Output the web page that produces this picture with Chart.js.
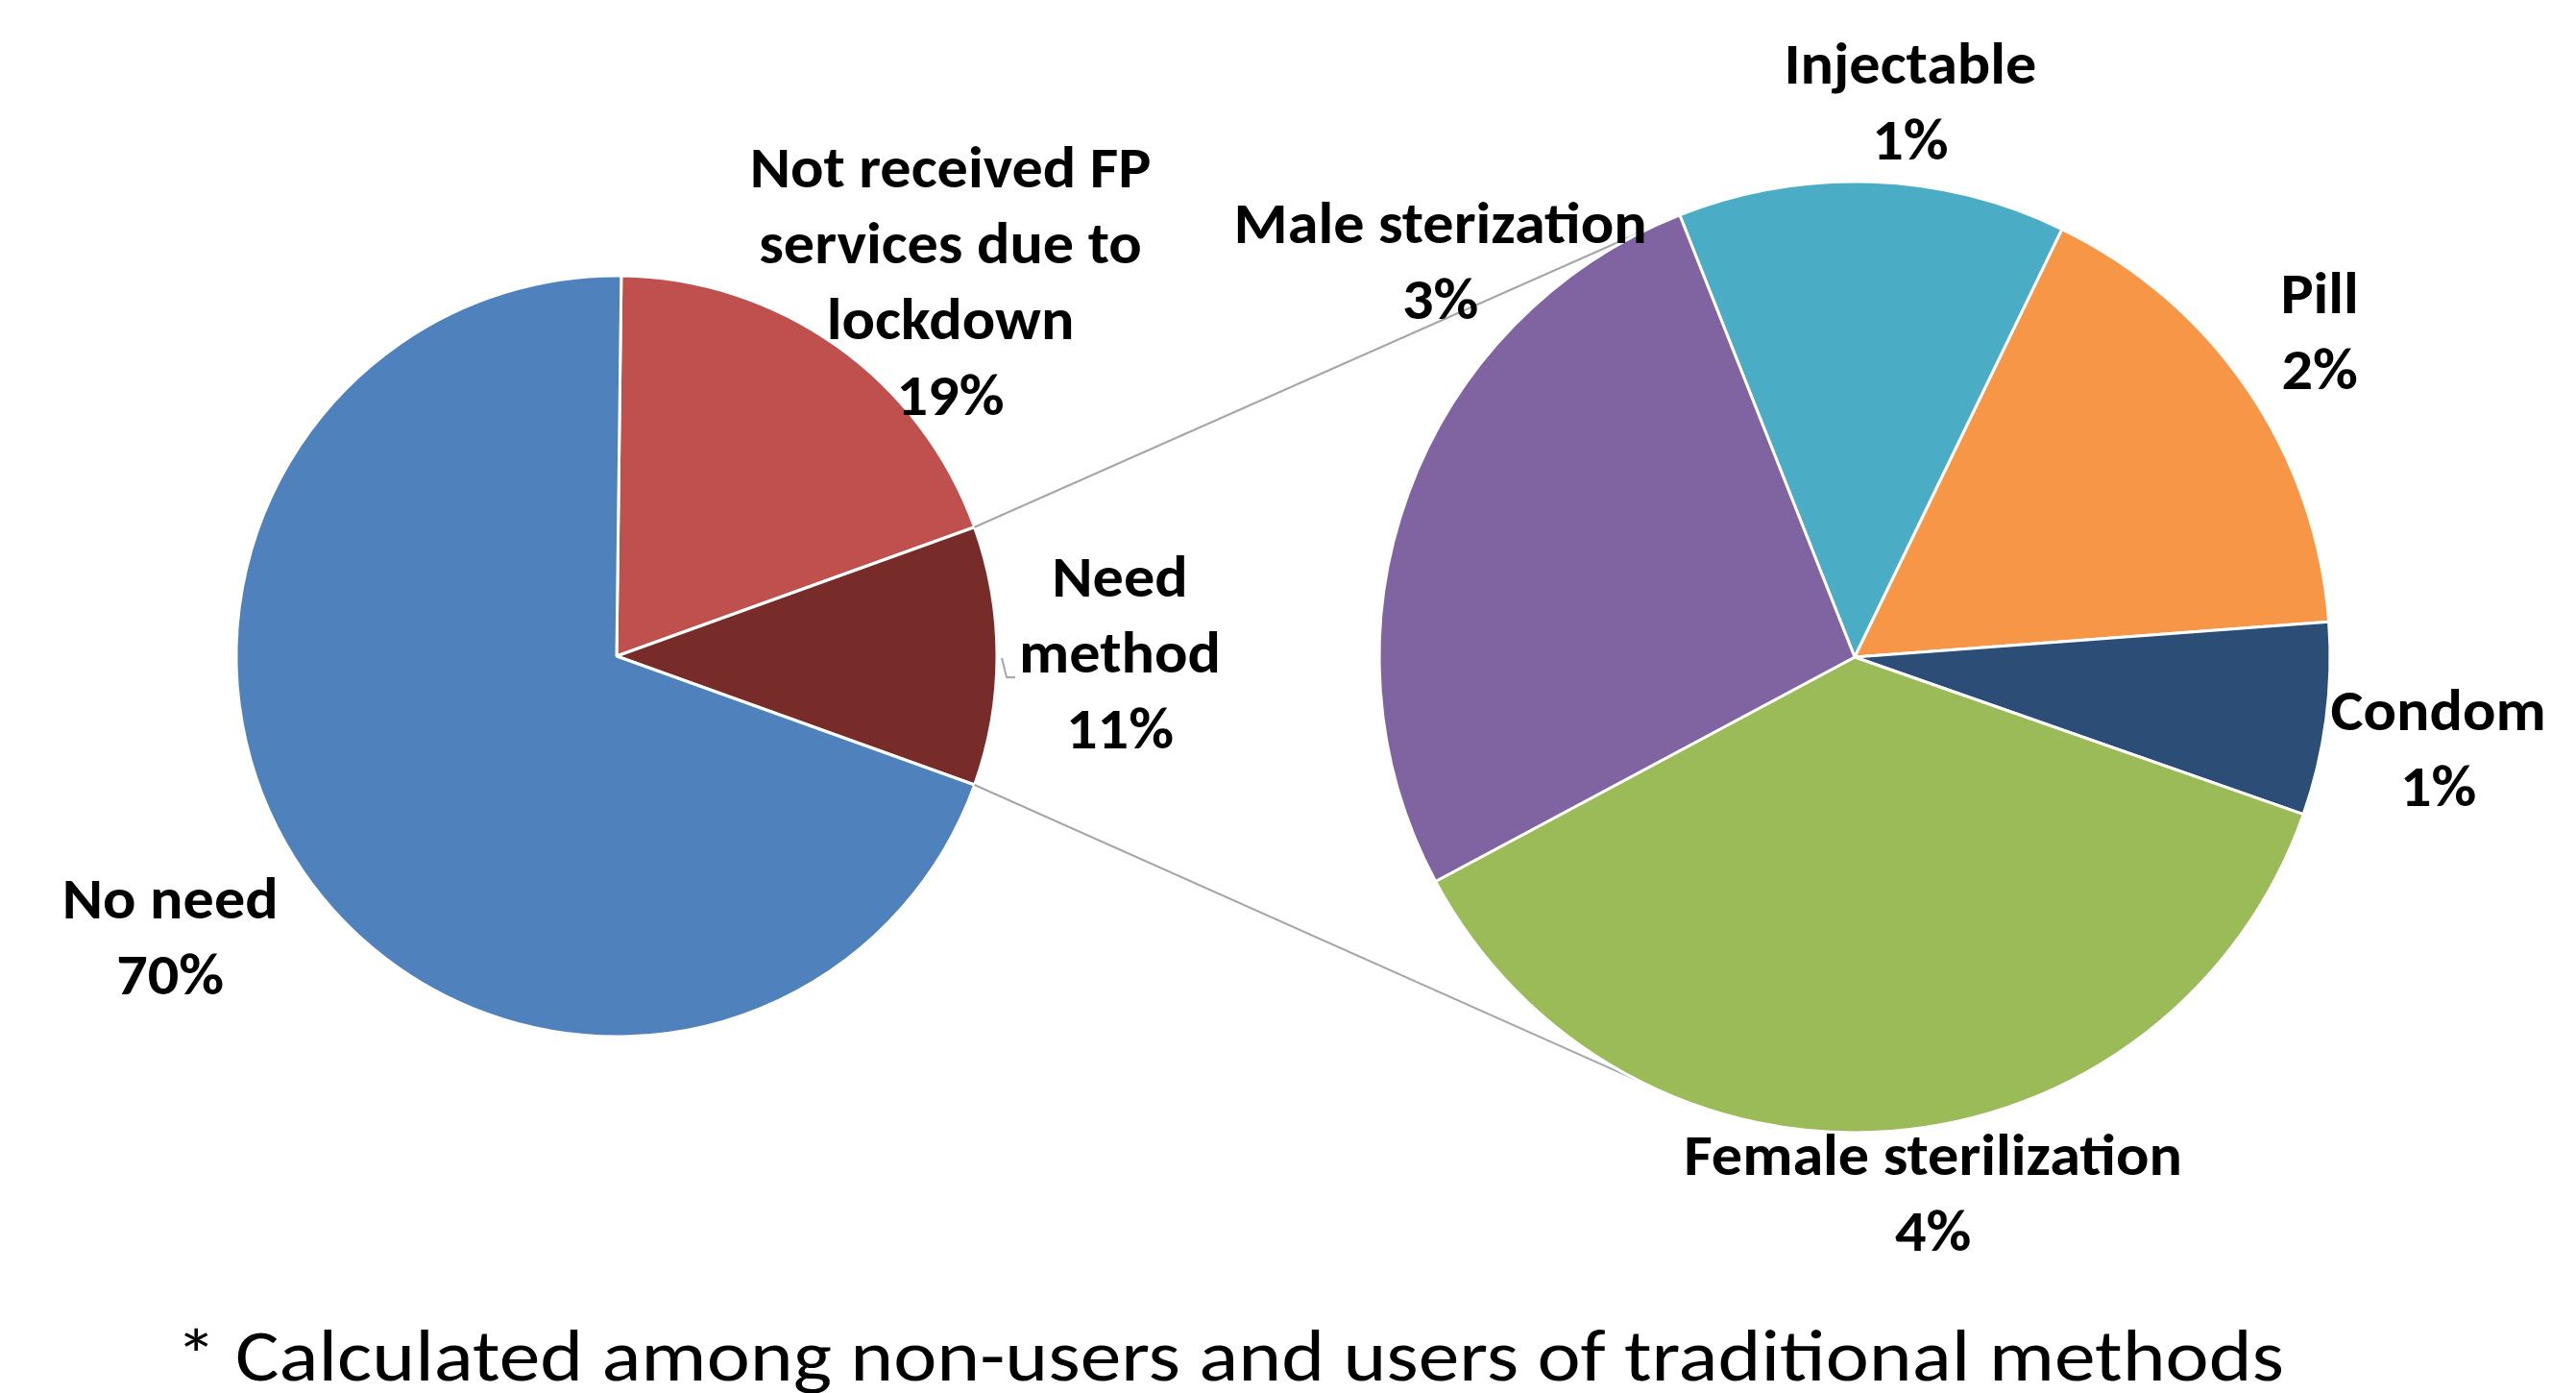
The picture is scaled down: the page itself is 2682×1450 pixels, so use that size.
<!DOCTYPE html>
<html>
<head>
<meta charset="utf-8">
<script src="https://cdn.jsdelivr.net/npm/chart.js@4"></script>
<style>
  html, body { margin: 0; padding: 0; background: #fff; }
  #wrap { position: relative; width: 2682px; height: 1450px; overflow: hidden; }
  #wrap canvas { position: absolute; left: 0; top: 0; }
</style>
</head>
<body>
<div id="wrap">
  <canvas id="chart-main" width="2682" height="1450"></canvas>
  <canvas id="chart-methods" width="2682" height="1450"></canvas>
</div>
<script>
// first pie
const mainLabels = [["Not received FP", "services due to", "lockdown"], ["Need", "method"], ["No need"]];
const mainValues = [19.3, 11.0, 69.7];
const mainColors = ["#C0504D", "#772C2A", "#4F81BD"];

// second pie (breakdown of "Need method")
const methodLabels = [["Injectable"], ["Pill"], ["Condom"], ["Female sterilization"], ["Male sterization"]];
const methodValues = [1.45, 1.83, 0.72, 4.05, 2.95];
const methodColors = ["#4BACC6", "#F79646", "#2C4D75", "#9BBB59", "#8064A2"];

const footnote = "* Calculated among non-users and users of traditional methods";

const W = 2682, H = 1450, BW = 3;
const FONT = "Carlito, Calibri, Lato, sans-serif";
const LABEL_SIZE = 60, LABEL_STRETCH = 1.07, LINE_H = 79;

// label placement: [distance from centre, angle tweak in degrees]
const mainLabelPos = [[522, 6.3], [524, -0.3], [549, 2.6]];
const methodLabelPos = [[580, 3.6], [591, -0.8], [615, 1.4], [564, -3.9], [596, 23.5]];

function padFor(cx, cy, r) {
  return {
    left: cx - r - BW / 2,
    right: W - cx - r - BW / 2,
    top: cy - r - BW / 2,
    bottom: H - cy - r - BW / 2,
  };
}

function labelPlugin(id, positions) {
  return {
    id: id,
    afterDatasetsDraw(chart) {
      const ctx = chart.ctx;
      const meta = chart.getDatasetMeta(0);
      const data = chart.data.datasets[0].data;
      ctx.save();
      ctx.fillStyle = "#000";
      ctx.font = "bold " + LABEL_SIZE + "px " + FONT;
      ctx.textAlign = "center";
      ctx.textBaseline = "alphabetic";
      meta.data.forEach((arc, i) => {
        const p = arc.getProps(["x", "y", "startAngle", "endAngle"], true);
        const mid = (p.startAngle + p.endAngle) / 2 + positions[i][1] * Math.PI / 180;
        const cx = p.x + positions[i][0] * Math.cos(mid);
        const cy = p.y + positions[i][0] * Math.sin(mid);
        const lines = chart.data.labels[i].concat([Math.round(data[i]) + "%"]);
        const n = lines.length;
        lines.forEach((t, k) => {
          ctx.save();
          ctx.translate(cx, cy + (k - (n - 1) / 2) * LINE_H + 20);
          ctx.scale(LABEL_STRETCH, 1);
          ctx.fillText(t, 0, 0);
          ctx.restore();
        });
      });
      ctx.restore();
    },
  };
}

const ctx1 = document.getElementById("chart-main").getContext("2d");
const mainChart = new Chart(ctx1, {
  type: "pie",
  data: {
    labels: mainLabels,
    datasets: [{
      data: mainValues,
      backgroundColor: mainColors,
      borderColor: "#fff",
      borderWidth: BW,
    }],
  },
  options: {
    responsive: false,
    animation: false,
    devicePixelRatio: 1,
    rotation: 0.7,
    layout: { padding: padFor(642, 683, 396) },
    plugins: { legend: { display: false }, tooltip: { enabled: false } },
  },
  plugins: [
    labelPlugin("mainLabels", mainLabelPos),
    {
      // little leader line next to "Need method"
      id: "leader",
      afterDatasetsDraw(chart) {
        const arc = chart.getDatasetMeta(0).data[1];
        const p = arc.getProps(["x", "y", "outerRadius"], true);
        const x0 = p.x + p.outerRadius + 5, y0 = p.y + 2;
        const c = chart.ctx;
        c.save();
        c.strokeStyle = "#A6A6A6";
        c.lineWidth = 2;
        c.beginPath();
        c.moveTo(x0, y0);
        c.lineTo(x0 + 5, y0 + 20);
        c.lineTo(x0 + 14, y0 + 20);
        c.stroke();
        c.restore();
      },
    },
  ],
});

const ctx2 = document.getElementById("chart-methods").getContext("2d");
const methodChart = new Chart(ctx2, {
  type: "pie",
  data: {
    labels: methodLabels,
    datasets: [{
      data: methodValues,
      backgroundColor: methodColors,
      borderColor: "#fff",
      borderWidth: BW,
    }],
  },
  options: {
    responsive: false,
    animation: false,
    devicePixelRatio: 1,
    rotation: -21.6,
    layout: { padding: padFor(1931, 684, 495) },
    plugins: { legend: { display: false }, tooltip: { enabled: false } },
  },
  plugins: [
    {
      // connector lines from the "Need method" slice to the second pie
      id: "connectors",
      beforeDatasetsDraw(chart) {
        const src = mainChart.getDatasetMeta(0).data[1].getProps(["x", "y", "startAngle", "endAngle", "outerRadius"], true);
        const dst = chart.getDatasetMeta(0).data[0].getProps(["x", "y", "outerRadius"], true);
        const topA = -111.6 * Math.PI / 180, botA = 116.6 * Math.PI / 180;
        const c = chart.ctx;
        c.save();
        c.strokeStyle = "#A6A6A6";
        c.lineWidth = 2;
        c.beginPath();
        c.moveTo(src.x + src.outerRadius * Math.cos(src.startAngle), src.y + src.outerRadius * Math.sin(src.startAngle));
        c.lineTo(dst.x + dst.outerRadius * Math.cos(topA), dst.y + dst.outerRadius * Math.sin(topA));
        c.moveTo(src.x + src.outerRadius * Math.cos(src.endAngle), src.y + src.outerRadius * Math.sin(src.endAngle));
        c.lineTo(dst.x + dst.outerRadius * Math.cos(botA), dst.y + dst.outerRadius * Math.sin(botA));
        c.stroke();
        c.restore();
      },
    },
    labelPlugin("methodLabels", methodLabelPos),
    {
      id: "footnote",
      afterDraw(chart) {
        const c = chart.ctx;
        c.save();
        c.fillStyle = "#000";
        c.font = "77px " + FONT;
        c.textAlign = "left";
        c.textBaseline = "alphabetic";
        const target = 2195;
        const w = c.measureText(footnote).width;
        c.translate(183, 1437);
        c.scale(target / w, 1);
        c.fillText(footnote, 0, 0);
        c.restore();
      },
    },
  ],
});
</script>
</body>
</html>
